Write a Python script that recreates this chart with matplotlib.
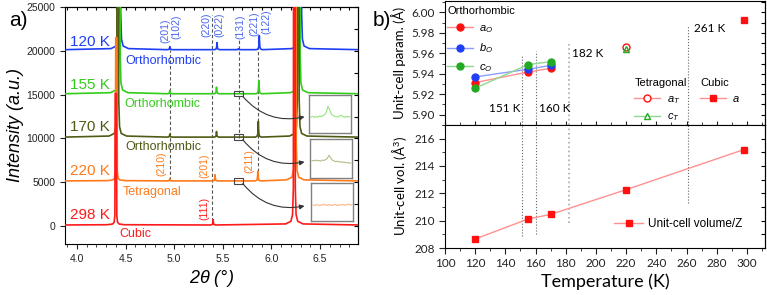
import numpy as np
import matplotlib
matplotlib.use('Agg')
import matplotlib.pyplot as plt
from matplotlib.patches import Rectangle
from matplotlib.lines import Line2D
from matplotlib.ticker import MultipleLocator

plt.rcParams['font.family'] = ['Liberation Sans', 'DejaVu Sans']
plt.rcParams['mathtext.fontset'] = 'custom'
plt.rcParams['mathtext.it'] = 'Liberation Sans:italic'
plt.rcParams['mathtext.rm'] = 'Liberation Sans'

# ---------------- panel a data (XRD patterns) ----------------
temps_a = ['298 K', '220 K', '170 K', '155 K', '120 K']
phases_a = ['Cubic', 'Tetragonal', 'Orthorhombic', 'Orthorhombic', 'Orthorhombic']
baselines = [120, 5150, 10150, 15100, 20130]
big_pos = [[4.400, 6.235], [4.405, 6.245], [4.420, 6.275], [4.435, 6.285], [4.440, 6.300]]
big_h = [[15000, 60000], [16350, 60000], [60000, 60000], [60000, 60000], [60000, 60000]]
small_pos = [[5.400], [4.955, 5.420, 5.860], [4.955, 5.435, 5.865],
             [4.955, 5.435, 5.870], [4.955, 5.440, 5.660, 5.875]]
small_h = [[620], [250, 700, 1100], [350, 640, 1800], [380, 750, 1500], [350, 800, 120, 1600]]

hkl_top = ['(201)', '(102)', '(220)', '(022)', '(131)', '(221)', '(122)']
hkl_tetra = ['(210)', '(201)', '(211)']
hkl_cubic = ['(111)']
dash_x = [4.952, 5.392, 5.662, 5.857]
dash_lo = [5200, 600, 10000, 5600]
dash_hi = [20100, 24100, 21200, 21200]

# inset traces (zoom of the (131) region)
inset_155 = [0.42, 0.44, 0.41, 0.43, 0.42, 0.45, 0.43, 0.46, 0.48, 0.55, 0.70, 0.62,
             0.50, 0.46, 0.44, 0.43, 0.42, 0.45, 0.47, 0.43, 0.41, 0.44, 0.42, 0.43]
inset_170 = [0.45, 0.44, 0.46, 0.44, 0.45, 0.43, 0.46, 0.45, 0.47, 0.50, 0.58, 0.52,
             0.46, 0.44, 0.42, 0.43, 0.41, 0.42, 0.40, 0.41, 0.39, 0.40, 0.38, 0.39]
inset_220 = [0.42, 0.41, 0.43, 0.42, 0.41, 0.43, 0.42, 0.44, 0.41, 0.42, 0.43, 0.41,
             0.42, 0.44, 0.42, 0.41, 0.43, 0.42, 0.44, 0.41, 0.43, 0.45, 0.42, 0.43]

# ---------------- panel b data (lattice parameters) ----------------
T_ortho = [120, 155, 170]
a_ortho = [5.9314, 5.9417, 5.9453]
b_ortho = [5.9369, 5.9444, 5.9482]
c_ortho = [5.9259, 5.9489, 5.9518]
T_tetra = [220]
a_tetra = [5.9663]
c_tetra = [5.9644]
T_cubic = [298]
a_cubic = [5.9929]
T_vol = [120, 155, 170, 220, 298]
vol_z = [208.66, 210.12, 210.46, 212.27, 215.2]
T_trans = [151, 160, 182, 261]
trans_top = [5.957, 5.962, 5.9686, 5.9874]
trans_bot = [208.85, 209.0, 209.8, 211.3]

colors_a = ['#ff1a1a', '#ff7a1a', '#505a14', '#33cc1a', '#1f3ff5']
hkl_blue = '#4a66ee'

# peak shape templates (drawing only)
small_dx = [-0.03, -0.012, -0.006, -0.003, 0.0, 0.003, 0.006, 0.012, 0.03]
small_fr = [0.0, 0.06, 0.2, 0.5, 1.0, 0.5, 0.2, 0.06, 0.0]
big_dx = [-0.09, -0.035, -0.018, -0.01, -0.006, 0.006, 0.01, 0.018, 0.035, 0.09]
big_fr = [0.002, 0.007, 0.02, 0.07, 1.0, 1.0, 0.07, 0.02, 0.007, 0.002]

XMIN, XMAX = 3.877, 6.89


def pattern(base, bpos, bh, spos, sh):
    xs = [XMIN, XMAX]
    ys = [base, base]
    for p, h in zip(bpos, bh):
        xs += [p + d for d in big_dx]
        ys += [base + h * f for f in big_fr]
    for p, h in zip(spos, sh):
        xs += [p + d for d in small_dx]
        ys += [base + h * f for f in small_fr]
    order = np.argsort(xs)
    return np.array(xs)[order], np.array(ys)[order]


fig = plt.figure(figsize=(7.67, 2.95), dpi=100)

# ================= panel a =================
ax = fig.add_axes([0.0847, 0.1729, 0.3821, 0.8034])
for i in range(4, -1, -1):
    x, y = pattern(baselines[i], big_pos[i], big_h[i], small_pos[i], small_h[i])
    ax.plot(x, y, color=colors_a[i], lw=1.2, zorder=3)

ax.set_xlim(XMIN, XMAX)
ax.set_ylim(-2050, 25000)
ax.set_yticks([0, 5000, 10000, 15000, 20000, 25000])
ax.set_xticks([4.0, 4.5, 5.0, 5.5, 6.0, 6.5])
ax.xaxis.set_minor_locator(MultipleLocator(0.1))
ax.tick_params(axis='both', which='both', direction='out', labelsize=7.5, colors='#222222')
ax.tick_params(which='major', length=3.5)
ax.tick_params(which='minor', length=2)
sec = ax.secondary_yaxis('right')
sec.set_yticks(np.arange(0, 25001, 2500))
sec.tick_params(direction='in', length=3, labelright=False)
sec2 = ax.secondary_xaxis('top')
sec2.set_xticks(np.arange(3.9, 6.9, 0.1))
sec2.tick_params(direction='in', length=2, labeltop=False)
ax.set_xlabel(r'2$\theta$ (°)', fontsize=13, fontstyle='italic', labelpad=3)
ax.set_ylabel('Intensity (a.u.)', fontsize=13, fontstyle='italic', labelpad=2)

temp_y = [1260, 6290, 11330, 16130, 21050]
phase_x = [4.432, 4.473, 4.494, 4.484, 4.494]
phase_y = [-915, 3890, 9040, 13960, 18880]
for i in range(5):
    ax.text(3.925, temp_y[i], temps_a[i], color=colors_a[i], fontsize=11,
            ha='left', va='center', zorder=5)
    ax.text(phase_x[i], phase_y[i], phases_a[i], color=colors_a[i], fontsize=9,
            ha='left', va='center', zorder=5)

hkl_top_x = [4.910, 5.026, 5.327, 5.461, 5.680, 5.824, 5.952]
hkl_top_y = [22300, 22770, 23000, 23000, 22770, 23100, 23340]
for t, xx, yy in zip(hkl_top, hkl_top_x, hkl_top_y):
    ax.text(xx, yy, t, rotation=90, fontsize=7.5, color=hkl_blue, ha='center', va='center')
for t, xx, yy in zip(hkl_tetra, [4.871, 5.307, 5.770], [7090, 6860, 7440]):
    ax.text(xx, yy, t, rotation=90, fontsize=7.5, color=colors_a[1], ha='center', va='center')
ax.text(5.307, 2000, hkl_cubic[0], rotation=90, fontsize=7.5, color=colors_a[0],
        ha='center', va='center')

for xx, lo, hi in zip(dash_x, dash_lo, dash_hi):
    ax.plot([xx, xx], [lo, hi], color='#555555', lw=0.8, ls=(0, (3, 2)), zorder=2)

arrow_end_y = [12470, 7320, 2290]
for base, ey in zip([baselines[3], baselines[2], baselines[1]], arrow_end_y):
    ax.add_patch(Rectangle((5.662 - 0.045, base - 300), 0.09, 600, fill=False,
                           ec='#444444', lw=0.8, zorder=6))
    ax.annotate('', xy=(6.34, ey), xytext=(5.705, base - 300),
                arrowprops=dict(arrowstyle='-|>', color='#333333', lw=0.8,
                                mutation_scale=7, shrinkA=0, shrinkB=0,
                                connectionstyle='arc3,rad=0.3'), zorder=6)

inset_rects = [[309, 95, 42, 38], [310, 139, 42, 39], [311, 183, 42, 38]]
inset_data = [inset_155, inset_170, inset_220]
inset_cols = ['#95e47e', '#b3be86', '#ffb487']
W, H = 767.0, 295.0
for r, d, c in zip(inset_rects, inset_data, inset_cols):
    ia = fig.add_axes([r[0] / W, 1 - (r[1] + r[3]) / H, r[2] / W, r[3] / H])
    ia.plot(np.linspace(0.05, 0.97, len(d)), d, color=c, lw=0.8)
    ia.set_xlim(0, 1)
    ia.set_ylim(0, 1)
    ia.set_xticks([])
    ia.set_yticks([])
    for s in ia.spines.values():
        s.set_color('#808080')
        s.set_linewidth(1.0)

fig.text(0.012, 0.93, 'a)', fontsize=15, ha='left', va='center')
fig.text(0.486, 0.93, 'b)', fontsize=15, ha='left', va='center')

# ================= panel b =================
bfont = 'Lato'
axt = fig.add_axes([0.5802, 0.5763, 0.4172, 0.4203])
axb = fig.add_axes([0.5802, 0.1593, 0.4172, 0.4170])

red, blue, green = '#ff1010', '#1f3ff5', '#22aa22'
lred, lblue, lgreen = '#ff9090', '#8f9cff', '#8fd88f'

h_a, = axt.plot(T_ortho, a_ortho, color=lred, lw=1, marker='o', ms=5, mfc=red, mec=red)
h_b, = axt.plot(T_ortho, b_ortho, color=lblue, lw=1, marker='o', ms=5, mfc=blue, mec=blue)
h_c, = axt.plot(T_ortho, c_ortho, color=lgreen, lw=1, marker='o', ms=5, mfc=green, mec=green)
h_at, = axt.plot(T_tetra, a_tetra, ls='none', marker='o', ms=5, mfc='none', mec=red)
h_ct, = axt.plot(T_tetra, c_tetra, ls='none', marker='^', ms=5, mfc='none', mec=green)
h_ac, = axt.plot(T_cubic, a_cubic, ls='none', marker='s', ms=5, mfc=red, mec=red)
h_v, = axb.plot(T_vol, vol_z, color=lred, lw=1, marker='s', ms=5, mfc=red, mec=red)

axt.set_ylim(5.89, 6.011)
axb.set_ylim(208, 217)
for a in (axt, axb):
    a.set_xlim(100, 312)
    a.xaxis.set_major_locator(MultipleLocator(20))
    a.xaxis.set_minor_locator(MultipleLocator(10))
    a.tick_params(which='both', direction='out', labelsize=8.5, colors='#222222')
    a.tick_params(which='major', length=4)
    a.tick_params(which='minor', length=2.5)
axt.set_yticks([5.90, 5.92, 5.94, 5.96, 5.98, 6.00])
axt.yaxis.set_minor_locator(MultipleLocator(0.01))
axt.set_yticklabels(['5.90', '5.92', '5.94', '5.96', '5.98', '6.00'], fontfamily=bfont)
axt.tick_params(axis='x', which='both', direction='inout', labelbottom=False)
axt.tick_params(axis='x', which='major', length=6)
axt.tick_params(axis='x', which='minor', length=4)
axb.set_yticks([208, 210, 212, 214, 216])
axb.yaxis.set_minor_locator(MultipleLocator(1))
axb.set_yticklabels(['208', '210', '212', '214', '216'], fontfamily=bfont)
axb.set_xticks([100, 120, 140, 160, 180, 200, 220, 240, 260, 280, 300])
axb.set_xticklabels([str(v) for v in range(100, 301, 20)], fontfamily=bfont)

st = axt.secondary_yaxis('right')
st.set_yticks(np.arange(5.89, 6.011, 0.01))
st.tick_params(direction='in', length=3, labelright=False)
sb = axb.secondary_yaxis('right')
sb.set_yticks(np.arange(208, 217.1, 1))
sb.tick_params(direction='in', length=3, labelright=False)

for T, top, bot in zip(T_trans, trans_top, trans_bot):
    c = '#aaaaaa' if T == 182 else '#666666'
    lw = 1.2 if T == 182 else 0.8
    axt.plot([T, T], [5.89, top], color=c, lw=lw, ls=':', zorder=1)
    axb.plot([T, T], [bot, 217], color=c, lw=lw, ls=':', zorder=1)

axt.text(150.2, 5.9058, '151 K', ha='right', va='center', fontsize=8.5, fontfamily=bfont)
axt.text(162.3, 5.9058, '160 K', ha='left', va='center', fontsize=8.5, fontfamily=bfont)
axt.text(184.2, 5.9595, '182 K', ha='left', va='center', fontsize=8.5, fontfamily=bfont)
axt.text(265.0, 5.9845, '261 K', ha='left', va='center', fontsize=8.5, fontfamily=bfont)

axt.set_ylabel('Unit-cell param. (Å)', fontsize=9.5, fontfamily=bfont, labelpad=4)
axb.set_ylabel('Unit-cell vol. (Å$^3$)', fontsize=9.5, fontfamily=bfont, labelpad=4)
axb.set_xlabel('Temperature (K)', fontsize=13, fontfamily=bfont, labelpad=3)

leg_kw = dict(frameon=False, fontsize=8, title_fontsize=8, handlelength=2.3,
              handletextpad=0.6, borderaxespad=0, borderpad=0.2, alignment='left')
l1 = axt.legend([h_a, h_b, h_c], ['$a_O$', '$b_O$', '$c_O$'], title='Orthorhombic',
                loc='upper left', bbox_to_anchor=(0.0, 0.975), labelspacing=0.6, **leg_kw)
axt.add_artist(l1)
l2 = axt.legend([Line2D([], [], color=lred, lw=1, marker='o', ms=5, mfc='white', mec=red),
                 Line2D([], [], color=lgreen, lw=1, marker='^', ms=5, mfc='white', mec=green)],
                ['$a_T$', '$c_T$'], title='Tetragonal', loc='upper left',
                bbox_to_anchor=(0.585, 0.40), labelspacing=0.55, **leg_kw)
axt.add_artist(l2)
axt.legend([Line2D([], [], color=lred, lw=1, marker='s', ms=5, mfc=red, mec=red)],
           ['$a$'], title='Cubic', loc='upper left', bbox_to_anchor=(0.79, 0.40),
           labelspacing=0.55, **leg_kw)
axb.legend([h_v], ['Unit-cell volume/Z'], loc='center left', bbox_to_anchor=(0.52, 0.195),
           frameon=False, fontsize=8.5, handlelength=2.5, handletextpad=0.4,
           borderaxespad=0, borderpad=0.2)

fig.savefig('out.png', dpi=100)
